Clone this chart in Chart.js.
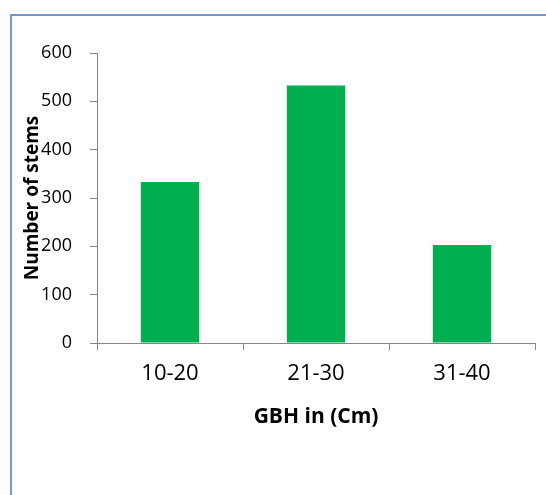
<!DOCTYPE html>
<html>
<head>
<meta charset="utf-8">
<script src="https://cdn.jsdelivr.net/npm/chart.js@4/dist/chart.umd.min.js"></script>
<style>
  html, body { margin: 0; padding: 0; background: #fff; overflow: hidden; }
  #wrap { position: relative; width: 546px; height: 495px; }
  #frame { position: absolute; left: 10px; top: 14px; width: 700px; height: 700px;
           border: 2px solid #6E98D0; box-sizing: border-box; }
  canvas { position: absolute; left: 0; top: 0; }
</style>
</head>
<body>
<div id="wrap">
  <div id="frame"></div>
  <canvas id="c" width="546" height="495"></canvas>
</div>
<script>
// GBH classes and stem counts
const categories = ['10-20', '21-30', '31-40'];
const stems = [333, 533, 203];
const yTicks = [0, 100, 200, 300, 400, 500, 600];

const FONT = "'Open Sans', 'Liberation Sans', sans-serif";
const AXIS = '#868686';

new Chart(document.getElementById('c'), {
  type: 'bar',
  data: {
    labels: categories,
    datasets: [{
      data: stems,
      backgroundColor: '#00B050',
      borderWidth: 0,
      barPercentage: 0.4,
      categoryPercentage: 1
    }]
  },
  options: {
    responsive: false,
    animation: false,
    events: [],
    layout: { padding: { left: 0, top: 53, right: 11, bottom: 0 } },
    plugins: { legend: { display: false }, tooltip: { enabled: false } },
    scales: {
      x: {
        grid: { display: true, drawOnChartArea: false, drawTicks: true, tickLength: 7, color: AXIS, lineWidth: 1, offset: true },
        border: { display: true, color: AXIS, width: 1 },
        ticks: { color: '#000', font: { family: FONT, size: 22 }, padding: 11 },
        title: { display: true, text: 'GBH in (Cm)', color: '#000',
                 font: { family: FONT, size: 21, weight: 'bold' }, padding: { top: 0, bottom: 65 } },
        afterFit: s => { s.height = 152; }
      },
      y: {
        min: 0, max: 600,
        afterBuildTicks: s => { s.ticks = yTicks.map(v => ({ value: v })); },
        grid: { display: true, drawOnChartArea: false, drawTicks: true, tickLength: 7, color: AXIS, lineWidth: 1 },
        border: { display: true, color: AXIS, width: 1 },
        ticks: { color: '#000', font: { family: FONT, size: 18 }, padding: 18 },
        title: { display: true, text: 'Number of stems', color: '#000',
                 font: { family: FONT, size: 19, weight: 'bold' }, padding: { top: 21, bottom: 0 } },
        afterFit: s => { s.width = 97; }
      }
    }
  }
});
</script>
</body>
</html>
